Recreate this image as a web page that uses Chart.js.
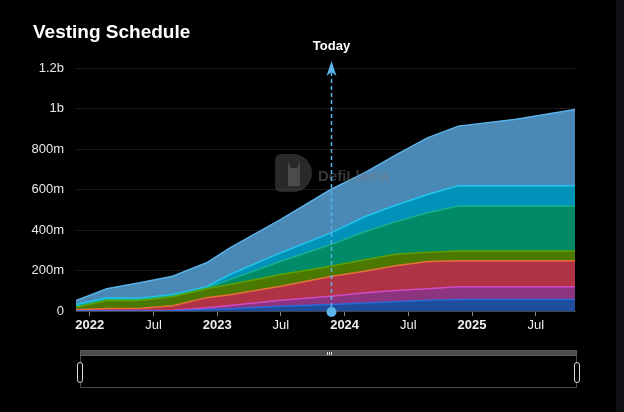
<!DOCTYPE html>
<html>
<head>
<meta charset="utf-8">
<script src="https://cdn.jsdelivr.net/npm/chart.js@4.4.1/dist/chart.umd.min.js"></script>
<style>
  body { margin: 0; background: #000; }
  #wrap { position: relative; width: 624px; height: 412px; background: #000; overflow: hidden; }
  #title { position: absolute; left: 33px; top: 21px; font: bold 19px "Liberation Sans", Arial, sans-serif; color: #fff; line-height: 22px; }
  #strip { position: absolute; left: 616px; top: 0; width: 8px; height: 412px; background: #0e1013; }
  .bar { position: absolute; left: 80px; top: 350px; width: 497px; height: 6px; background: #4b4b4b; border: 1px solid #5c5c5c; box-sizing: border-box; }
  .grip { position: absolute; left: 246px; top: 1px; width: 5px; height: 3px; border-left: 1px solid #ddd; border-right: 1px solid #ddd; box-sizing: border-box; }
  .grip::after { content: ''; position: absolute; left: 1px; top: 0; width: 1px; height: 3px; background: #ddd; }
  .box { position: absolute; left: 80px; top: 356px; width: 497px; height: 32px; border: 1px solid #4a4a4a; border-top: none; box-sizing: border-box; }
  .handle { position: absolute; top: 362px; width: 6px; height: 21px; border: 1px solid #d8d8d8; border-radius: 3px; background: #000; box-sizing: border-box; }
</style>
</head>
<body>
<div id="wrap">
  <canvas id="vesting" width="624" height="412"></canvas>
  <div id="title">Vesting Schedule</div>
  <div class="bar"><div class="grip"></div></div>
  <div class="box"></div>
  <div class="handle" style="left:77px"></div>
  <div class="handle" style="left:574px"></div>
  <div id="strip"></div>
</div>
<script>
// x in months since Jan 2022, values in millions of tokens
const months = [-1.3, 1.6, 4.7, 7.8, 11, 13.2, 18, 22.7, 26, 28.8, 31.8, 34.7, 40, 45.7];
const blueSeries   = [0, 0, 0, 1, 7, 11, 24, 32, 40, 46, 53, 57, 57, 57];
const purpleSeries = [1, 2, 2, 3, 9, 16, 29, 41, 50, 55, 57, 63, 63, 63];
const redSeries    = [5, 10, 12, 22, 50, 53, 69, 97, 108, 123, 134, 128, 128, 128];
const oliveSeries  = [13, 40, 38, 44, 44, 51, 58, 51, 56, 56, 46, 48, 48, 48];
const tealSeries   = [4, 5, 5, 5, 4, 24, 66, 107, 140, 160, 195, 222, 222, 222];
const cyanSeries   = [9, 8, 6, 6, 6, 25, 42, 58, 74, 82, 90, 100, 100, 100];
const skySeries    = [20, 45, 76, 91, 118, 132, 164, 214, 218, 248, 280, 295, 328, 377];

const tickMonths = [0, 6, 12, 18, 24, 30, 36, 42];
const tickLabels = ['2022', 'Jul', '2023', 'Jul', '2024', 'Jul', '2025', 'Jul'];
const yTicks = [0, 200, 400, 600, 800, 1000, 1200];
const yLabels = ['0', '200m', '400m', '600m', '800m', '1b', '1.2b'];
const todayMonth = 22.7;

function series(values, fillColor, lineColor, first) {
    return {
        data: values.map((v, i) => ({ x: months[i], y: v })),
        backgroundColor: fillColor,
        borderColor: lineColor,
        borderWidth: 1.5,
        pointRadius: 0,
        tension: 0,
        fill: first ? 'origin' : '-1'
    };
}

// DefiLlama watermark, semi transparent over the areas
const watermark = {
    id: 'watermark',
    afterDatasetsDraw(chart) {
        const ctx = chart.ctx;
        ctx.save();
        ctx.fillStyle = 'rgba(90, 90, 90, 0.45)';
        ctx.beginPath();
        ctx.roundRect(275, 154, 37, 38, [6, 19, 19, 6]);
        ctx.fill();
        ctx.fillStyle = 'rgba(140, 140, 140, 0.35)';
        ctx.beginPath();
        ctx.moveTo(288, 162);
        ctx.lineTo(291, 168);
        ctx.lineTo(297, 168);
        ctx.lineTo(300, 162);
        ctx.lineTo(300, 186);
        ctx.lineTo(288, 186);
        ctx.closePath();
        ctx.fill();
        ctx.fillStyle = 'rgba(120, 120, 120, 0.45)';
        ctx.font = 'bold 15px "Liberation Sans", Arial, sans-serif';
        ctx.textBaseline = 'middle';
        ctx.fillText('DefiLlama', 318, 177);
        ctx.restore();
    }
};

const todayMarker = {
    id: 'todayMarker',
    afterDatasetsDraw(chart) {
        const ctx = chart.ctx;
        const x = Math.round(chart.scales.x.getPixelForValue(todayMonth)) + 0.5;
        const bottom = chart.chartArea.bottom;
        ctx.save();
        ctx.strokeStyle = '#5ab4e8';
        ctx.fillStyle = '#5ab4e8';
        ctx.lineWidth = 1.5;
        ctx.setLineDash([4, 3]);
        ctx.beginPath();
        ctx.moveTo(x, 72);
        ctx.lineTo(x, bottom);
        ctx.stroke();
        ctx.setLineDash([]);
        ctx.beginPath();
        ctx.moveTo(x, 61);
        ctx.lineTo(x + 5, 76);
        ctx.lineTo(x, 72);
        ctx.lineTo(x - 5, 76);
        ctx.closePath();
        ctx.fill();
        ctx.beginPath();
        ctx.arc(x, bottom + 1, 5, 0, Math.PI * 2);
        ctx.fill();
        ctx.fillStyle = '#fff';
        ctx.font = 'bold 13px "Liberation Sans", Arial, sans-serif';
        ctx.textAlign = 'center';
        ctx.textBaseline = 'middle';
        ctx.fillText('Today', x, 46);
        ctx.restore();
    }
};

new Chart(document.getElementById('vesting').getContext('2d'), {
    type: 'line',
    data: {
        datasets: [
            series(blueSeries, '#1d4d9b', '#2a6ad8', true),
            series(purpleSeries, '#8d347f', '#cf4bc4'),
            series(redSeries, '#b03345', '#e8703a'),
            series(oliveSeries, '#4a7800', '#5fa000'),
            series(tealSeries, '#008a68', '#19b28e'),
            series(cyanSeries, '#0092b8', '#22c6ee'),
            series(skySeries, '#4a88b6', '#5ab2e8')
        ]
    },
    options: {
        responsive: false,
        animation: false,
        layout: { padding: { top: 68, right: 49, left: 0, bottom: 0 } },
        plugins: { legend: { display: false }, tooltip: { enabled: false } },
        scales: {
            x: {
                type: 'linear',
                min: months[0],
                max: months[months.length - 1],
                afterFit: scale => { scale.height = 101; },
                afterBuildTicks: scale => { scale.ticks = tickMonths.map(v => ({ value: v })); },
                grid: { drawOnChartArea: false, drawTicks: true, tickLength: 5, color: '#8a8a8a' },
                border: { display: true, color: '#3d434d' },
                ticks: {
                    padding: 2,
                    color: '#f0f0f0',
                    maxRotation: 0,
                    autoSkip: false,
                    font: c => ({ family: '"Liberation Sans", Arial, sans-serif', size: 13, weight: c.tick && c.tick.value % 12 === 0 ? 'bold' : 'normal' }),
                    callback: v => tickLabels[tickMonths.indexOf(v)]
                }
            },
            y: {
                stacked: true,
                min: 0,
                max: 1200,
                afterFit: scale => { scale.width = 76; },
                afterBuildTicks: scale => { scale.ticks = yTicks.map(v => ({ value: v })); },
                grid: { color: '#1c1c1c', drawTicks: false },
                border: { display: false },
                ticks: {
                    padding: 12,
                    color: '#e8e8e8',
                    font: { family: '"Liberation Sans", Arial, sans-serif', size: 13 },
                    callback: v => yLabels[yTicks.indexOf(v)]
                }
            }
        }
    },
    plugins: [watermark, todayMarker]
});
</script>
</body>
</html>
